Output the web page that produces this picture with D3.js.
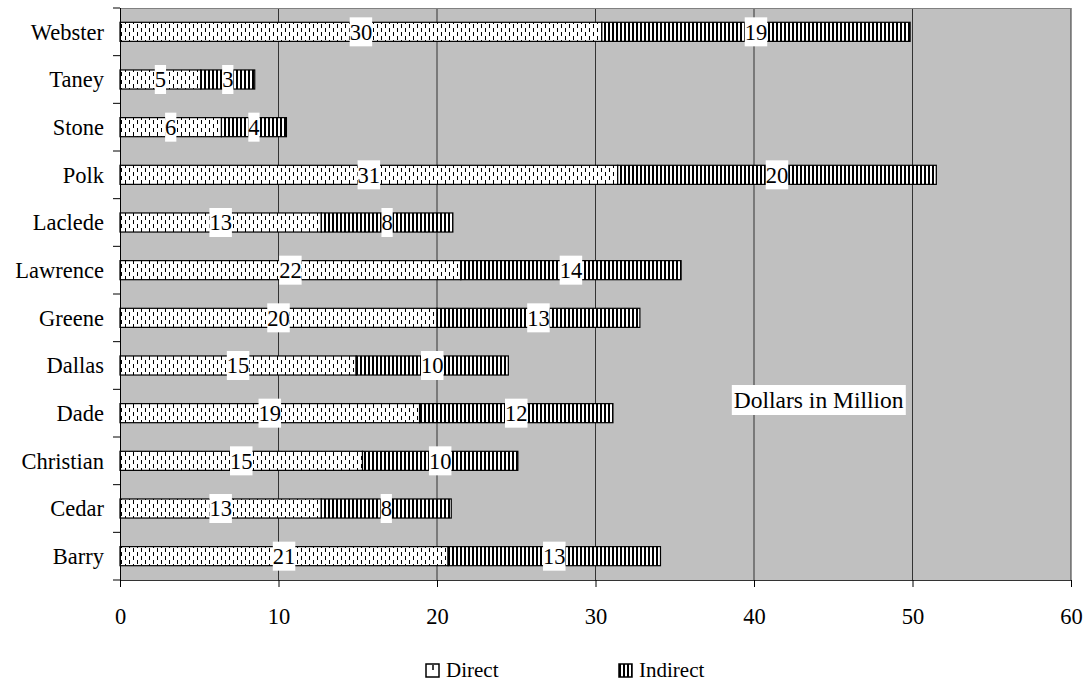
<!DOCTYPE html>
<html>
<head>
<meta charset="utf-8">
<script src="https://cdn.jsdelivr.net/npm/d3@7"></script>
</head>
<body style="margin:0;background:#fff">
<svg id="chart" width="1088" height="683" style="display:block"></svg>
<script>
// Counties, top to bottom
const counties = ["Webster", "Taney", "Stone", "Polk", "Laclede", "Lawrence",
                  "Greene", "Dallas", "Dade", "Christian", "Cedar", "Barry"];
// Impact in millions of dollars
const direct   = [30.4, 5.1, 6.4, 31.4, 12.7, 21.5, 20.0, 14.9, 18.9, 15.3, 12.7, 20.7];
const indirect = [19.45, 3.4, 4.1, 20.1, 8.3, 13.9, 12.8, 9.6, 12.2, 9.8, 8.2, 13.4];
const seriesNames = ["Direct", "Indirect"];
const xTicks = [0, 10, 20, 30, 40, 50, 60];

const FONT = "Liberation Serif";
const FS = 22.5;

const svg = d3.select("#chart");
const margin = { left: 120, right: 17, top: 8, bottom: 103 };
const W = 1088, H = 683;
const x = d3.scaleLinear().domain([0, 60]).range([margin.left, W - margin.right]);
const y = d3.scaleBand().domain(counties).range([margin.top, H - margin.bottom])
  .paddingInner(0.6).paddingOuter(0.3);

// Fill patterns
const defs = svg.append("defs");
const pd = defs.append("pattern").attr("id", "patDirect")
  .attr("patternUnits", "userSpaceOnUse").attr("width", 8).attr("height", 8);
pd.append("rect").attr("width", 8).attr("height", 8).attr("fill", "#fff");
pd.append("rect").attr("x", 1).attr("y", 0).attr("width", 1).attr("height", 4).attr("fill", "#000");
pd.append("rect").attr("x", 5).attr("y", 4).attr("width", 1).attr("height", 4).attr("fill", "#000");

const pi = defs.append("pattern").attr("id", "patIndirect")
  .attr("patternUnits", "userSpaceOnUse").attr("width", 4).attr("height", 4);
pi.append("rect").attr("width", 4).attr("height", 4).attr("fill", "#fff");
pi.append("rect").attr("x", 0).attr("width", 2).attr("height", 4).attr("fill", "#000");

const fills = ["url(#patDirect)", "url(#patIndirect)"];

// Plot background
svg.append("rect")
  .attr("x", x(0)).attr("y", margin.top)
  .attr("width", x(60) - x(0)).attr("height", H - margin.bottom - margin.top)
  .attr("fill", "#c0c0c0");

// Vertical gridlines
svg.append("g").selectAll("line")
  .data(xTicks.filter(d => d > 0))
  .join("line")
  .attr("x1", d => x(d)).attr("x2", d => x(d))
  .attr("y1", margin.top).attr("y2", H - margin.bottom)
  .attr("stroke", "#333").attr("stroke-width", 1);

// Top border of plot
svg.append("line")
  .attr("x1", x(0)).attr("x2", x(60))
  .attr("y1", margin.top + 0.5).attr("y2", margin.top + 0.5)
  .attr("stroke", "#808080");

// Stacked bars
const stacked = counties.map((c, i) => {
  const segs = [];
  let acc = 0;
  [direct[i], indirect[i]].forEach((v, k) => {
    segs.push({ county: c, k, v, x0: acc, x1: acc + v });
    acc += v;
  });
  return segs;
}).flat();

svg.append("g").selectAll("rect")
  .data(stacked)
  .join("rect")
  .attr("x", d => x(d.x0))
  .attr("y", d => y(d.county))
  .attr("width", d => x(d.x1) - x(d.x0))
  .attr("height", y.bandwidth())
  .attr("fill", d => fills[d.k])
  .attr("stroke", "#000").attr("stroke-width", 1.2);

// Value labels
const fmt = d3.format(".0f");
const lab = svg.append("g").selectAll("g")
  .data(stacked)
  .join("g")
  .attr("transform", d => `translate(${(x(d.x0) + x(d.x1)) / 2},${y(d.county) + y.bandwidth() / 2})`);
lab.append("text")
  .attr("font-family", FONT).attr("font-size", FS)
  .attr("text-anchor", "middle").attr("dy", "0.35em")
  .attr("fill", "#000")
  .text(d => fmt(d.v));
lab.each(function () {
  const g = d3.select(this);
  const b = g.select("text").node().getBBox();
  g.insert("rect", "text")
    .attr("x", b.x).attr("y", -14.5)
    .attr("width", b.width).attr("height", 29)
    .attr("fill", "#fff");
});

// Value axis
const xAxis = d3.axisBottom(x).tickValues(xTicks).tickSize(7).tickSizeOuter(0).tickPadding(21);
const gx = svg.append("g")
  .attr("transform", `translate(0,${H - margin.bottom})`)
  .call(xAxis);
gx.select(".domain").attr("stroke", "#333");
gx.selectAll(".tick line").attr("stroke", "#000");
gx.selectAll("text")
  .attr("fill", "#000")
  .attr("font-family", FONT)
  .attr("font-size", FS);

// Category axis: ticks on band boundaries
const gy = svg.append("g");
gy.append("line")
  .attr("x1", x(0) + 0.5).attr("x2", x(0) + 0.5)
  .attr("y1", margin.top).attr("y2", H - margin.bottom)
  .attr("stroke", "#000");
const bounds = d3.range(counties.length + 1).map(i => margin.top + i * y.step());
gy.selectAll("line.tk")
  .data(bounds)
  .join("line").attr("class", "tk")
  .attr("x1", x(0) - 7).attr("x2", x(0))
  .attr("y1", d => d).attr("y2", d => d)
  .attr("stroke", "#000");
gy.selectAll("text")
  .data(counties)
  .join("text")
  .attr("x", x(0) - 16)
  .attr("y", d => y(d) + y.bandwidth() / 2)
  .attr("dy", "0.35em")
  .attr("text-anchor", "end")
  .attr("font-family", FONT)
  .attr("font-size", FS)
  .text(d => d);

// Units note
const note = svg.append("g").attr("transform", `translate(${x(38.6)},${400})`);
const noteText = note.append("text")
  .attr("font-family", FONT)
  .attr("font-size", 23.5).attr("dy", "0.35em").attr("x", 2)
  .text("Dollars in Million");
const nb = noteText.node().getBBox();
note.insert("rect", "text")
  .attr("x", nb.x - 2).attr("y", -15)
  .attr("width", nb.width + 4).attr("height", 30)
  .attr("fill", "#fff");

// Legend
const legendX = [426, 619];
const leg = svg.append("g").selectAll("g")
  .data(seriesNames)
  .join("g")
  .attr("transform", (d, i) => `translate(${legendX[i]},664)`);
leg.append("rect")
  .attr("width", 13).attr("height", 13)
  .attr("fill", (d, i) => i === 0 ? "#fff" : "url(#patIndirect)")
  .attr("stroke", "#000").attr("stroke-width", 1.5);
leg.filter((d, i) => i === 0).append("line")
  .attr("x1", 7).attr("x2", 7).attr("y1", 1).attr("y2", 6)
  .attr("stroke", "#000").attr("stroke-width", 1.5);
leg.append("text")
  .attr("x", 20).attr("y", 5.5).attr("dy", "0.35em")
  .attr("font-family", FONT)
  .attr("font-size", 21)
  .text(d => d);
</script>
</body>
</html>
